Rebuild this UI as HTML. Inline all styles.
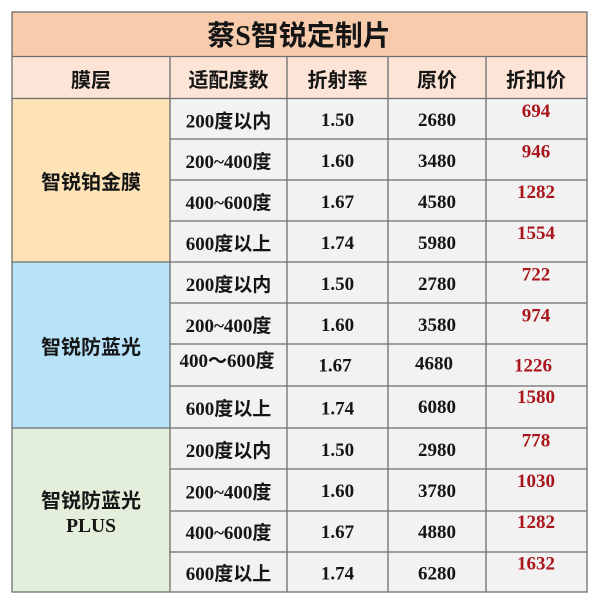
<!DOCTYPE html>
<html>
<head>
<meta charset="utf-8">
<style>
  html,body{margin:0;padding:0;background:#fff;}
  svg{display:block;}
  .cjk{font-family:"Liberation Sans","Noto Sans CJK SC",sans-serif;font-weight:bold;fill:#151515;}
  .mix{font-family:"Liberation Serif","Noto Sans CJK SC",serif;font-weight:bold;fill:#151515;}
  .red{font-family:"Liberation Serif",serif;font-weight:bold;fill:#a8161c;font-size:19px;}
</style>
</head>
<body>
<svg width="600" height="600" viewBox="0 0 600 600" xmlns="http://www.w3.org/2000/svg">
  <rect x="0" y="0" width="600" height="600" fill="#ffffff"/>
  <!-- Title -->
  <rect x="12" y="12" width="575" height="44.5" fill="#f8cbad"/>
  <!-- Header -->
  <rect x="12" y="56.5" width="575" height="42" fill="#fce4d6"/>
  <!-- Section label backgrounds -->
  <rect x="12" y="98.5" width="158" height="163.5" fill="#fde3b6"/>
  <rect x="12" y="262" width="158" height="166" fill="#b7e2f8"/>
  <rect x="12" y="428" width="158" height="164" fill="#e3efda"/>
  <!-- Data area -->
  <rect x="170" y="98.5" width="417" height="493.5" fill="#f2f2f2"/>

  <g stroke="#6e6e6e" stroke-width="1.3" fill="none">
    <!-- outer -->
    <rect x="12" y="12" width="575" height="580"/>
    <line x1="12" y1="56.5" x2="587" y2="56.5"/>
    <line x1="12" y1="98.5" x2="587" y2="98.5"/>
    <!-- verticals -->
    <line x1="170" y1="56.5" x2="170" y2="592"/>
    <line x1="287" y1="56.5" x2="287" y2="592"/>
    <line x1="388" y1="56.5" x2="388" y2="592"/>
    <line x1="486" y1="56.5" x2="486" y2="592"/>
    <!-- data row lines -->
    <line x1="170" y1="139" x2="587" y2="139"/>
    <line x1="170" y1="180" x2="587" y2="180"/>
    <line x1="170" y1="221" x2="587" y2="221"/>
    <line x1="12" y1="262" x2="587" y2="262"/>
    <line x1="170" y1="303" x2="587" y2="303"/>
    <line x1="170" y1="344" x2="587" y2="344"/>
    <line x1="170" y1="386" x2="587" y2="386"/>
    <line x1="12" y1="428" x2="587" y2="428"/>
    <line x1="170" y1="469" x2="587" y2="469"/>
    <line x1="170" y1="511" x2="587" y2="511"/>
    <line x1="170" y1="552" x2="587" y2="552"/>
  </g>

  <!-- Title text -->
  <text x="299" y="45" text-anchor="middle" class="mix" font-size="28">蔡S智锐定制片</text>

  <!-- Header texts -->
  <g class="cjk" font-size="20" text-anchor="middle">
    <text x="91" y="87">膜层</text>
    <text x="228.5" y="87">适配度数</text>
    <text x="337.5" y="87">折射率</text>
    <text x="437" y="87">原价</text>
    <text x="536" y="87">折扣价</text>
  </g>

  <!-- Left labels -->
  <g class="cjk" font-size="20" text-anchor="middle">
    <text x="91" y="189">智锐铂金膜</text>
    <text x="91" y="354">智锐防蓝光</text>
    <text x="91" y="507.5">智锐防蓝光</text>
  </g>
  <text x="91" y="532" text-anchor="middle" class="mix" font-size="19.5">PLUS</text>

  <!-- Column 2 -->
  <g class="mix" font-size="19" text-anchor="middle">
    <text x="228.5" y="127.5">200度以内</text>
    <text x="228.5" y="168">200~400度</text>
    <text x="228.5" y="209">400~600度</text>
    <text x="228.5" y="250">600度以上</text>
    <text x="228.5" y="291">200度以内</text>
    <text x="228.5" y="332">200~400度</text>
    <text x="227" y="367">400～600度</text>
    <text x="228.5" y="415">600度以上</text>
    <text x="228.5" y="457">200度以内</text>
    <text x="228.5" y="498.5">200~400度</text>
    <text x="228.5" y="539">400~600度</text>
    <text x="228.5" y="580">600度以上</text>
  </g>

  <!-- Column 3 -->
  <g class="mix" font-size="19" text-anchor="middle">
    <text x="337.5" y="126">1.50</text>
    <text x="337.5" y="167">1.60</text>
    <text x="337.5" y="208">1.67</text>
    <text x="337.5" y="249">1.74</text>
    <text x="337.5" y="290">1.50</text>
    <text x="337.5" y="331">1.60</text>
    <text x="335" y="371.5">1.67</text>
    <text x="337.5" y="414.5">1.74</text>
    <text x="337.5" y="456">1.50</text>
    <text x="337.5" y="497">1.60</text>
    <text x="337.5" y="538">1.67</text>
    <text x="337.5" y="579.5">1.74</text>
  </g>

  <!-- Column 4 -->
  <g class="mix" font-size="19" text-anchor="middle">
    <text x="437" y="126">2680</text>
    <text x="437" y="167">3480</text>
    <text x="437" y="208">4580</text>
    <text x="437" y="249">5980</text>
    <text x="437" y="290">2780</text>
    <text x="437" y="331">3580</text>
    <text x="434" y="369.5">4680</text>
    <text x="437" y="413">6080</text>
    <text x="437" y="456">2980</text>
    <text x="437" y="497">3780</text>
    <text x="437" y="538">4880</text>
    <text x="437" y="579.5">6280</text>
  </g>

  <!-- Column 5 (red) -->
  <g class="red" text-anchor="middle">
    <text x="536" y="117">694</text>
    <text x="536" y="157.5">946</text>
    <text x="536" y="198">1282</text>
    <text x="536" y="239">1554</text>
    <text x="536" y="280.5">722</text>
    <text x="536" y="321.5">974</text>
    <text x="533" y="371.5">1226</text>
    <text x="536" y="403">1580</text>
    <text x="536" y="446.5">778</text>
    <text x="536" y="487">1030</text>
    <text x="536" y="528">1282</text>
    <text x="536" y="569.5">1632</text>
  </g>
</svg>
</body>
</html>
